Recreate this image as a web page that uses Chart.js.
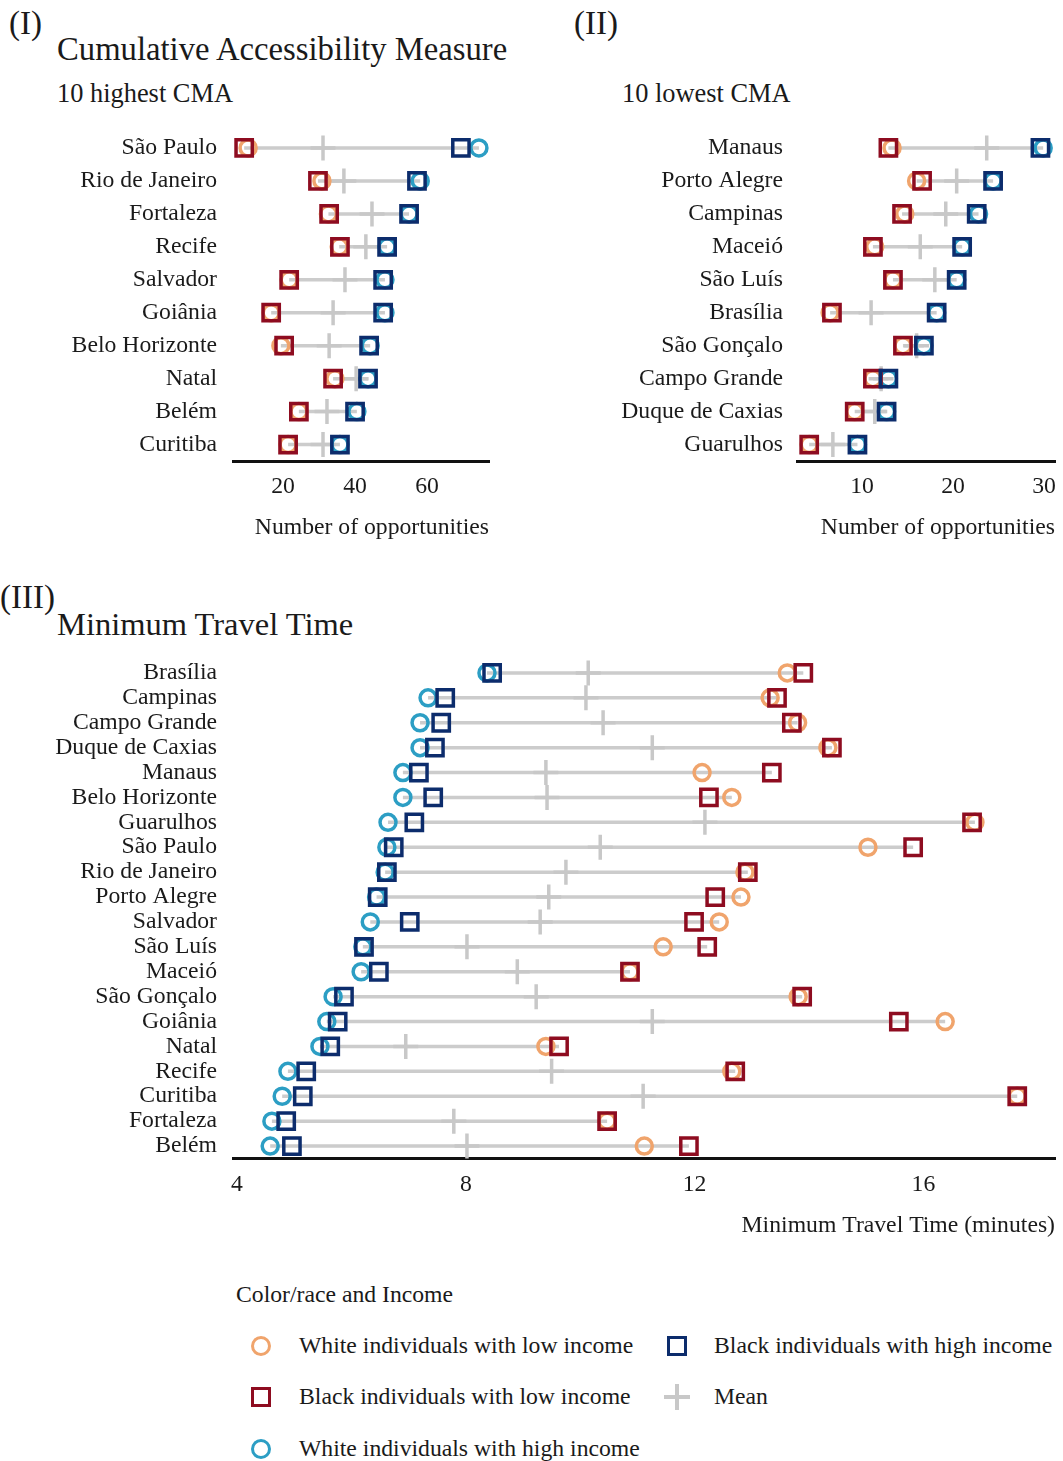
<!DOCTYPE html>
<html>
<head>
<meta charset="utf-8">
<script src="https://cdn.jsdelivr.net/npm/chart.js@4.4.1/dist/chart.umd.min.js"></script>
<style>
  body { margin: 0; background: #fff; width: 1063px; height: 1461px; position: relative; overflow: hidden;
         font-family: "Liberation Serif", "Times New Roman", serif; color: #1a1a1a; }
  .txt { position: absolute; white-space: nowrap; line-height: 1; }
  .panel { position: absolute; }
  .ico { position: absolute; box-sizing: border-box; }
  .ico.circle { width: 20px; height: 20px; border-radius: 50%; border: 3.5px solid; }
  .ico.square { width: 20px; height: 20px; border: 3.5px solid; }
  .ico.bar { background: #c8c8c8; }
  .leg { font-size: 23.7px; }
</style>
</head>
<body>

<div class="txt" style="left:9px; top:7px; font-size:33px;">(I)</div>
<div class="txt" style="left:57px; top:33px; font-size:32.7px;">Cumulative Accessibility Measure</div>
<div class="txt" style="left:57px; top:80px; font-size:26.4px;">10 highest CMA</div>

<div class="txt" style="left:574px; top:7px; font-size:33px;">(II)</div>
<div class="txt" style="left:622px; top:80px; font-size:26.4px;">10 lowest CMA</div>

<div class="txt" style="left:0px; top:581px; font-size:33px;">(III)</div>
<div class="txt" style="left:57px; top:608px; font-size:32.5px;">Minimum Travel Time</div>

<div class="panel" style="left:0px; top:120px; width:500px; height:430px;"><canvas id="cmaHigh"></canvas></div>
<div class="panel" style="left:560px; top:120px; width:503px; height:430px;"><canvas id="cmaLow"></canvas></div>
<div class="panel" style="left:0px; top:640px; width:1063px; height:610px;"><canvas id="mtt"></canvas></div>

<!-- legend -->
<div class="txt leg" style="left:236px; top:1283px;">Color/race and Income</div>

<div class="ico circle" style="left:251px; top:1336px; border-color:#f0a46c;"></div>
<div class="txt leg" style="left:299px; top:1334px;">White individuals with low income</div>
<div class="ico square" style="left:251px; top:1387px; border-color:#8e0c20;"></div>
<div class="txt leg" style="left:299px; top:1385px;">Black individuals with low income</div>
<div class="ico circle" style="left:251px; top:1439px; border-color:#2c9ec4;"></div>
<div class="txt leg" style="left:299px; top:1437px;">White individuals with high income</div>

<div class="ico square" style="left:667px; top:1336px; border-color:#0c2c6c;"></div>
<div class="txt leg" style="left:714px; top:1334px;">Black individuals with high income</div>
<div class="ico bar" style="left:675px; top:1384px; width:3.5px; height:26px;"></div>
<div class="ico bar" style="left:664px; top:1395px; width:26px; height:3.5px;"></div>
<div class="txt leg" style="left:714px; top:1385px;">Mean</div>

<script>
// Cumulative accessibility, 10 highest cities
const highCities = ['São Paulo', 'Rio de Janeiro', 'Fortaleza', 'Recife', 'Salvador', 'Goiânia',
  'Belo Horizonte', 'Natal', 'Belém', 'Curitiba'];
const highWhiteLow = [10.3, 30.8, 32.6, 35.6, 21.7, 16.7, 19.4, 34.4, 24.4, 21.4];
const highBlackLow = [9.2, 29.7, 32.8, 35.8, 21.7, 16.7, 20.3, 33.9, 24.4, 21.4];
const highWhiteHigh = [74.4, 58.1, 55.0, 48.9, 48.3, 48.3, 44.2, 43.6, 40.5, 35.8];
const highBlackHigh = [69.4, 57.2, 55.0, 48.9, 47.8, 47.8, 43.9, 43.6, 40.0, 35.8];
const highMean = [31.1, 36.9, 44.7, 43.0, 37.2, 33.9, 32.8, 40.3, 32.2, 31.1];
const highTicks = [20, 40, 60];

// Cumulative accessibility, 10 lowest cities
const lowCities = ['Manaus', 'Porto Alegre', 'Campinas', 'Maceió', 'São Luís', 'Brasília',
  'São Gonçalo', 'Campo Grande', 'Duque de Caxias', 'Guarulhos'];
const lowWhiteLow = [13.3, 16.0, 14.7, 11.4, 13.4, 6.5, 14.5, 11.2, 9.2, 4.2];
const lowBlackLow = [12.9, 16.6, 14.4, 11.2, 13.4, 6.7, 14.5, 11.2, 9.2, 4.2];
const lowWhiteHigh = [29.9, 24.4, 22.8, 21.0, 20.4, 18.2, 16.8, 12.9, 12.7, 9.5];
const lowBlackHigh = [29.6, 24.4, 22.6, 21.0, 20.4, 18.2, 16.8, 12.9, 12.7, 9.5];
const lowMean = [23.7, 20.4, 19.2, 16.4, 18.0, 11.0, 16.0, 12.1, 11.4, 6.8];
const lowTicks = [10, 20, 30];

// Minimum travel time (minutes), all 20 cities
const mttCities = ['Brasília', 'Campinas', 'Campo Grande', 'Duque de Caxias', 'Manaus', 'Belo Horizonte',
  'Guarulhos', 'São Paulo', 'Rio de Janeiro', 'Porto Alegre', 'Salvador', 'São Luís', 'Maceió',
  'São Gonçalo', 'Goiânia', 'Natal', 'Recife', 'Curitiba', 'Fortaleza', 'Belém'];
const mttWhiteLow = [13.62, 13.32, 13.8, 14.33, 12.13, 12.65, 16.9, 15.03, 12.88, 12.81,
  12.43, 11.45, 10.87, 13.81, 16.38, 9.4, 12.65, 17.64, 10.47, 11.12];
const mttBlackLow = [13.9, 13.44, 13.7, 14.4, 13.35, 12.25, 16.85, 15.82, 12.93, 12.36,
  11.99, 12.22, 10.87, 13.88, 15.57, 9.63, 12.71, 17.64, 10.47, 11.9];
const mttWhiteHigh = [8.37, 7.34, 7.2, 7.2, 6.9, 6.9, 6.64, 6.62, 6.59, 6.44,
  6.33, 6.2, 6.17, 5.68, 5.57, 5.45, 4.89, 4.79, 4.61, 4.58];
const mttBlackHigh = [8.46, 7.64, 7.57, 7.46, 7.18, 7.43, 7.1, 6.74, 6.62, 6.46,
  7.02, 6.22, 6.48, 5.87, 5.76, 5.63, 5.21, 5.15, 4.86, 4.96];
const mttMean = [10.14, 10.1, 10.4, 11.26, 9.4, 9.42, 12.18, 10.35, 9.75, 9.45,
  9.3, 8.02, 8.9, 9.23, 11.26, 6.95, 9.5, 11.1, 7.79, 8.02];
const mttTicks = [4, 8, 12, 16];

const FONT = '"Liberation Serif", "Times New Roman", serif';
const TEXT = '#1a1a1a';
const colors = { whiteLow: '#f0a46c', blackLow: '#8e0c20', whiteHigh: '#2c9ec4', blackHigh: '#0c2c6c', mean: '#c8c8c8', range: '#cccccc' };

function points(cities, values) {
  return cities.map((c, i) => ({ x: values[i], y: c }));
}

// grey segment from the smallest to the largest value in every row, broken by null points
function rangePoints(cities, series) {
  const out = [];
  cities.forEach((c, i) => {
    const row = series.map(s => s[i]);
    out.push({ x: Math.min(...row), y: c }, { x: Math.max(...row), y: c }, { x: null, y: c });
  });
  return out;
}

// no extra room for the outer tick labels, the plot area is set by layout.padding only
function noEdgePadding(s) {
  s.paddingTop = 0; s.paddingBottom = 0; s.paddingLeft = 0; s.paddingRight = 0;
}

function dumbbell(id, cities, wl, bl, wh, bh, mean, ticks, cfg) {
  const marker = (data, style, color, order) => ({
    data: data, pointStyle: style, pointRadius: style === 'rect' ? 11.5 : 8,
    pointBorderWidth: 3.5, pointBorderColor: color, pointBackgroundColor: 'rgba(0,0,0,0)',
    showLine: false, order: order, clip: false
  });
  new Chart(document.getElementById(id), {
    type: 'scatter',
    data: {
      datasets: [
        { data: rangePoints(cities, [wl, bl, wh, bh, mean]), showLine: true, pointRadius: 0,
          borderColor: colors.range, borderWidth: 3.5, spanGaps: false, order: 6, clip: false },
        { data: points(cities, mean), pointStyle: 'cross', pointRadius: 12.5, pointBorderWidth: 3.5,
          pointBorderColor: colors.mean, showLine: false, order: 5, clip: false },
        marker(points(cities, wl), 'circle', colors.whiteLow, 4),
        marker(points(cities, wh), 'circle', colors.whiteHigh, 3),
        marker(points(cities, bl), 'rect', colors.blackLow, 2),
        marker(points(cities, bh), 'rect', colors.blackHigh, 1)
      ]
    },
    options: {
      responsive: true,
      maintainAspectRatio: false,
      animation: false,
      layout: { autoPadding: false, padding: { top: cfg.padTop, right: cfg.padRight, left: 0, bottom: 0 } },
      plugins: { legend: { display: false }, tooltip: { enabled: false } },
      scales: {
        x: {
          type: 'linear', min: cfg.min, max: cfg.max,
          grid: { display: false, drawTicks: false },
          border: { display: true, color: '#111', width: 3 },
          afterBuildTicks: s => { s.ticks = ticks.map(v => ({ value: v })); },
          afterFit: s => { s.height = cfg.xHeight; noEdgePadding(s); },
          ticks: { padding: 12, color: TEXT, font: { family: FONT, size: 23.7 } },
          title: { display: true, text: cfg.title, align: 'end', color: TEXT,
                   padding: { top: 0, bottom: cfg.titlePad }, font: { family: FONT, size: 23.7 } }
        },
        y: {
          type: 'category', labels: cities, offset: true,
          grid: { display: false, drawTicks: false },
          border: { display: false },
          afterFit: s => { s.width = cfg.yWidth; noEdgePadding(s); },
          ticks: { padding: cfg.yPad, autoSkip: false, color: TEXT, font: { family: FONT, size: 23.7 } }
        }
      }
    }
  });
}

dumbbell('cmaHigh', highCities, highWhiteLow, highBlackLow, highWhiteHigh, highBlackHigh, highMean, highTicks,
  { min: 6.1, max: 77.2, padTop: 11.5, padRight: 11, xHeight: 89, yWidth: 233, yPad: 16, titlePad: 8,
    title: 'Number of opportunities' });
dumbbell('cmaLow', lowCities, lowWhiteLow, lowBlackLow, lowWhiteHigh, lowBlackHigh, lowMean, lowTicks,
  { min: 2.86, max: 31.2, padTop: 11.5, padRight: 8, xHeight: 89, yWidth: 237, yPad: 14, titlePad: 8,
    title: 'Number of opportunities' });
dumbbell('mtt', mttCities, mttWhiteLow, mttBlackLow, mttWhiteHigh, mttBlackHigh, mttMean, mttTicks,
  { min: 3.93, max: 18.3, padTop: 20.5, padRight: 8, xHeight: 91.5, yWidth: 233, yPad: 16, titlePad: 10,
    title: 'Minimum Travel Time (minutes)' });
</script>
</body>
</html>
